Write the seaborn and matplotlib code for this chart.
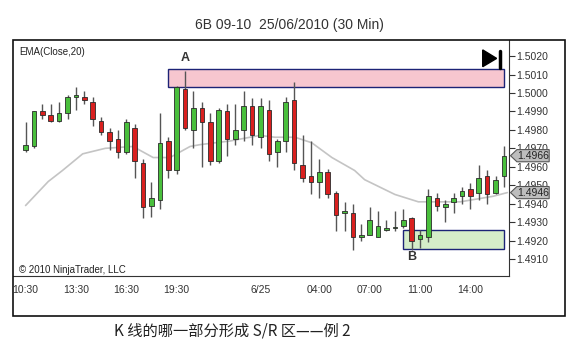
import numpy as np
import pandas as pd
import matplotlib
matplotlib.use("Agg")
import matplotlib.pyplot as plt
import seaborn as sns
from matplotlib.patches import Rectangle, Polygon
from matplotlib.transforms import blended_transform_factory

# 30 min bars
opens = [1.4969, 1.4971, 1.4990, 1.4988, 1.4985, 1.4989, 1.4998, 1.4998, 1.4995, 1.4985,
         1.4979, 1.4975, 1.4968, 1.4981, 1.4962, 1.4939, 1.4942, 1.4974, 1.4958, 1.5002,
         1.4980, 1.4992, 1.4984, 1.4963, 1.4990, 1.4975, 1.4980, 1.4993, 1.4976, 1.4991,
         1.4968, 1.4974, 1.4996, 1.4961, 1.4955, 1.4952, 1.4957, 1.4946, 1.4935, 1.4935,
         1.4922, 1.4923, 1.4922, 1.4926, 1.4927, 1.4928, 1.4932, 1.4921, 1.4922, 1.4943,
         1.4938, 1.4941, 1.4944, 1.4948, 1.4946, 1.4955, 1.4946, 1.4955]
highs = [1.4984, 1.4990, 1.4994, 1.4994, 1.4995, 1.4999, 1.5003, 1.5001, 1.4998, 1.4987,
         1.4981, 1.4980, 1.4986, 1.4983, 1.4964, 1.4952, 1.4989, 1.4976, 1.5004, 1.5012,
         1.5001, 1.4995, 1.4989, 1.4992, 1.4994, 1.4994, 1.5001, 1.4997, 1.4997, 1.4996,
         1.4975, 1.4998, 1.5006, 1.4977, 1.4974, 1.4964, 1.4959, 1.4947, 1.4941, 1.4940,
         1.4929, 1.4938, 1.4936, 1.4931, 1.4936, 1.4937, 1.4933, 1.4926, 1.4948, 1.4946,
         1.4942, 1.4946, 1.4949, 1.4951, 1.4961, 1.4958, 1.4955, 1.4971]
lows = [1.4968, 1.4970, 1.4986, 1.4984, 1.4984, 1.4986, 1.4991, 1.4994, 1.4982, 1.4977,
        1.4969, 1.4965, 1.4967, 1.4954, 1.4932, 1.4933, 1.4937, 1.4954, 1.4956, 1.4980,
        1.4970, 1.4960, 1.4961, 1.4962, 1.4966, 1.4972, 1.4974, 1.4972, 1.4970, 1.4963,
        1.4960, 1.4968, 1.4958, 1.4952, 1.4945, 1.4943, 1.4943, 1.4925, 1.4925, 1.4915,
        1.4920, 1.4923, 1.4922, 1.4925, 1.4925, 1.4927, 1.4915, 1.4916, 1.4919, 1.4936,
        1.4930, 1.4935, 1.4940, 1.4937, 1.4942, 1.4940, 1.4945, 1.4949]
closes = [1.4972, 1.4990, 1.4988, 1.4985, 1.4989, 1.4998, 1.4999, 1.4996, 1.4986, 1.4979,
          1.4974, 1.4968, 1.4984, 1.4963, 1.4938, 1.4943, 1.4973, 1.4958, 1.5003, 1.4981,
          1.4992, 1.4984, 1.4963, 1.4991, 1.4975, 1.4980, 1.4993, 1.4977, 1.4993, 1.4967,
          1.4974, 1.4995, 1.4962, 1.4954, 1.4952, 1.4957, 1.4945, 1.4934, 1.4936, 1.4922,
          1.4923, 1.4931, 1.4928, 1.4927, 1.4927, 1.4931, 1.4920, 1.4923, 1.4944, 1.4939,
          1.4940, 1.4943, 1.4947, 1.4944, 1.4954, 1.4945, 1.4953, 1.4966]

# EMA(Close,20) as traced on the chart (bar position, value)
ema_pos = [0, 2.7, 4.4, 6.8, 9.5, 12.8, 15.2, 17.2, 19.6, 20.8, 24.4, 27.9,
           29.7, 32.1, 34.1, 36.5, 39.2, 40.4, 44.0, 46.8, 51.8, 55.7, 57.4]
ema_val = [1.4939, 1.4952, 1.4958, 1.4967, 1.4970, 1.4971, 1.4965, 1.4965, 1.4971,
           1.4972, 1.4974, 1.4977, 1.4976, 1.4976, 1.4973, 1.4965, 1.4958, 1.4953,
           1.4945, 1.4941, 1.4941, 1.4944, 1.4946]

# S/R zones: [first bar, last bar], [low, high]
zone_a_bars = [17, 57]
zone_a_px = [1.5003, 1.5013]
zone_b_bars = [45, 57]
zone_b_px = [1.49153, 1.49256]

xtick_pos = [0, 6, 12, 18, 24, 28, 35, 41, 47, 53]
xtick_lab = ["10:30", "13:30", "16:30", "19:30", "", "6/25", "04:00", "07:00", "11:00", "14:00"]
yticks = [1.4910, 1.4920, 1.4930, 1.4940, 1.4950, 1.4960, 1.4970, 1.4980, 1.4990,
          1.5000, 1.5010, 1.5020]

GREEN = "#49bf3c"
RED = "#d9201f"

sns.set_style("white")
plt.rcParams["font.family"] = ["Liberation Sans", "DejaVu Sans"]

df = pd.DataFrame({"open": opens, "high": highs, "low": lows, "close": closes})
df["bar"] = np.arange(len(df))
ema = pd.DataFrame({"bar": ema_pos, "ema": ema_val})

W, H = 583, 354
fig = plt.figure(figsize=(W / 100, H / 100), dpi=100)
ax = fig.add_axes([13 / W, 1 - 276 / H, (509 - 13) / W, (276 - 40) / H])

# zones
for bars, px, fc in [(zone_a_bars, zone_a_px, (0.96, 0.70, 0.75, 0.75)),
                     (zone_b_bars, zone_b_px, (0.78, 0.91, 0.72, 0.75))]:
    ax.add_patch(Rectangle((bars[0], px[0]), bars[1] - bars[0], px[1] - px[0],
                           facecolor=fc, edgecolor="#1c2376", lw=1.0, zorder=1))

sns.lineplot(data=ema, x="bar", y="ema", color="#c4c4c4", lw=1.2, ax=ax, zorder=2)

# candles
up = df["close"] >= df["open"]
colors = np.where(up, GREEN, RED)
body = np.maximum((df["close"] - df["open"]).abs(), 0.00002)
ax.vlines(df["bar"], df["low"], df["high"], color="#555555", lw=1.0, zorder=3)
ax.bar(df["bar"], body, bottom=np.minimum(df["open"], df["close"]), width=0.55,
       color=colors, edgecolor="#2a2a2a", lw=0.6, zorder=4)

ax.set_xlim(-1.5, 57.6)
ax.set_ylim(1.49008, 1.50287)

ax.yaxis.tick_right()
ax.set_yticks(yticks)
ax.set_yticklabels([f"{v:.4f}" for v in yticks])
ax.set_xticks(xtick_pos)
ax.set_xticklabels(xtick_lab)
ax.tick_params(axis="both", direction="out", length=4, width=0.8, colors="#333333",
               labelsize=7.5, pad=1.5)
ax.tick_params(axis="x", pad=2.5)
ax.set_xlabel("")
ax.set_ylabel("")
for s in ["top", "left"]:
    ax.spines[s].set_visible(False)
for s in ["right", "bottom"]:
    ax.spines[s].set_color("#333333")
    ax.spines[s].set_linewidth(0.8)

# annotations
ax.text(19, 1.50190, "A", ha="center", va="center", fontsize=9, fontweight="bold", color="#333333")
ax.text(46, 1.49110, "B", ha="center", va="center", fontsize=9, fontweight="bold", color="#333333")
ax.text(0.012, 0.949, "EMA(Close,20)", transform=ax.transAxes, fontsize=7, color="#222222", va="center")
ax.text(0.012, 0.025, "\u00a9 2010 NinjaTrader, LLC", transform=ax.transAxes, fontsize=7,
        color="#222222", va="center")

# play-to-end icon
ax.add_patch(Polygon([[0.947, 0.958], [0.947, 0.887], [0.975, 0.922]], closed=True,
                     transform=ax.transAxes, color="black", zorder=6))
ax.plot([0.981, 0.981], [0.955, 0.882], transform=ax.transAxes, color="black", lw=2.5, zorder=6)

# price markers on the right axis
tr = blended_transform_factory(ax.transAxes, ax.transData)
for val in [closes[-1], ema_val[-1]]:
    h = 0.00033
    ax.add_patch(Polygon([[1.003, val], [1.016, val + h], [1.081, val + h], [1.081, val - h],
                          [1.016, val - h]], closed=True, transform=tr, facecolor="#bdbdbd",
                         edgecolor="#555555", lw=0.8, clip_on=False, zorder=10))
    ax.text(1.049, val, f"{val:.4f}", transform=tr, ha="center", va="center", fontsize=7.5,
            color="#222222", clip_on=False, zorder=11)

# outer frame, title and caption
fig.add_artist(Rectangle((13 / W, 1 - 316 / H), (565 - 13) / W, (316 - 40) / H,
                         transform=fig.transFigure, fill=False, edgecolor="#111111", lw=1.2))
fig.text(289 / W, 1 - 25 / H, "6B 09-10  25/06/2010 (30 Min)", ha="center", va="center",
         fontsize=10, color="#333333")
fig.text(232 / W, 1 - 331 / H, "K 线的哪一部分形成 S/R 区——例 2", ha="center", va="center",
         fontsize=11, color="#222222", family=["Noto Sans CJK SC", "DejaVu Sans"])

fig.savefig("out.png", dpi=100)
